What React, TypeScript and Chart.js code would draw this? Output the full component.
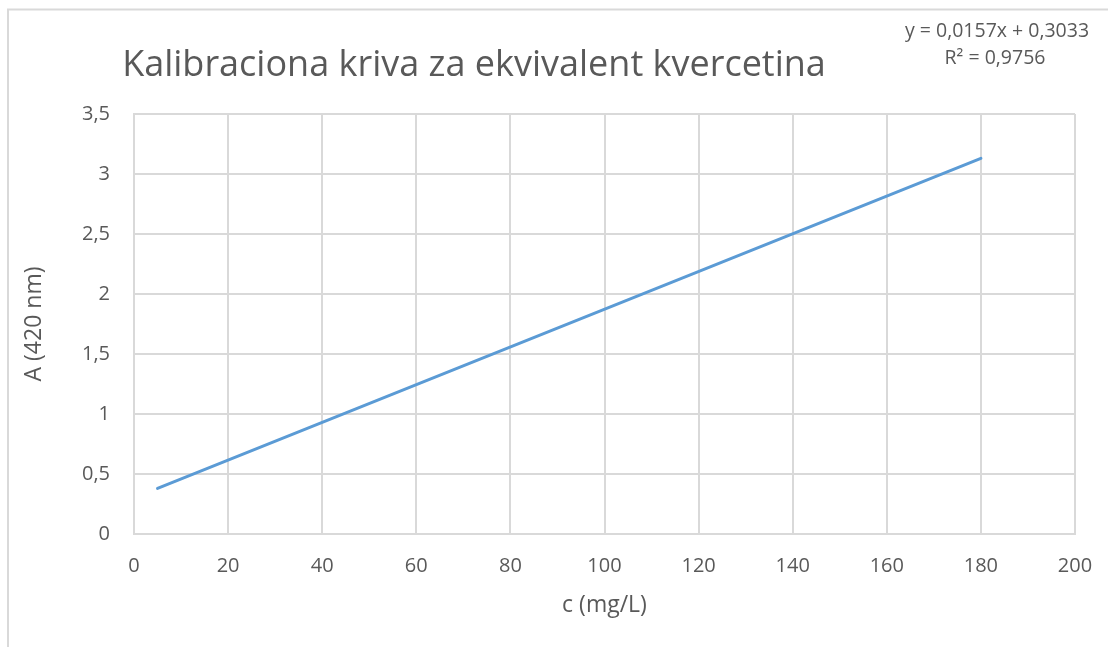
import React, { useEffect, useRef } from "react";
import { Chart, registerables } from "chart.js";

Chart.register(...registerables);

const cValues = [5, 180];
const aValues = [0.38, 3.13];
const xTicks = [0, 20, 40, 60, 80, 100, 120, 140, 160, 180, 200];
const yTicks = [0, 0.5, 1, 1.5, 2, 2.5, 3, 3.5];
const titleText = "Kalibraciona kriva za ekvivalent kvercetina";
const equationText = "y = 0,0157x + 0,3033";
const r2Text = "R² = 0,9756";
const xTitle = "c (mg/L)";
const yTitle = "A (420 nm)";

const FONT = "'Open Sans', 'Noto Sans', sans-serif";
const TXT = "#595959";
const GRID = "#d9d9d9";

const fmt = (v: number) => String(v).replace(".", ",");

const decorPlugin = {
  id: "decor",
  beforeDraw(chart: any) {
    const ctx = chart.ctx;
    ctx.save();
    ctx.fillStyle = "#ffffff";
    ctx.fillRect(0, 0, chart.width, chart.height);
    ctx.strokeStyle = GRID;
    ctx.lineWidth = 2;
    ctx.strokeRect(8, 9.5, chart.width + 20, chart.height + 20);
    ctx.restore();
  },
  afterDraw(chart: any) {
    const ctx = chart.ctx;
    ctx.save();
    ctx.fillStyle = TXT;
    ctx.textBaseline = "middle";
    ctx.textAlign = "center";
    ctx.font = `36px ${FONT}`;
    ctx.fillText(titleText, 474, 66);
    ctx.font = `19.5px ${FONT}`;
    ctx.fillText(equationText, 997, 31);
    ctx.fillText(r2Text, 995, 58);
    ctx.restore();
  },
};

export default function App() {
  const ref = useRef<HTMLCanvasElement>(null);
  useEffect(() => {
    document.body.style.margin = "0";
    const chart = new Chart(ref.current!, {
      type: "scatter",
      data: {
        datasets: [
          {
            data: cValues.map((x, i) => ({ x, y: aValues[i] })),
            showLine: true,
            borderColor: "#5b9bd5",
            borderWidth: 3,
            borderCapStyle: "round",
            pointRadius: 0,
            fill: false,
          },
        ],
      },
      options: {
        responsive: false,
        animation: false,
        layout: { padding: { left: 0, right: 33, top: 114, bottom: 0 } },
        plugins: { legend: { display: false }, tooltip: { enabled: false }, title: { display: false } },
        scales: {
          x: {
            type: "linear",
            min: 0,
            max: 200,
            afterBuildTicks: (s: any) => {
              s.ticks = xTicks.map((v) => ({ value: v }));
            },
            afterFit: (s: any) => {
              s.height = 113;
              s.paddingLeft = 0;
              s.paddingRight = 0;
            },
            grid: { color: GRID, lineWidth: 2, drawTicks: false },
            border: { color: GRID, width: 2 },
            ticks: {
              color: TXT,
              font: { family: FONT, size: 20 },
              padding: 20,
              maxRotation: 0,
              callback: (v: any) => fmt(v),
            },
            title: {
              display: true,
              text: xTitle,
              color: TXT,
              font: { family: FONT, size: 23 },
              padding: { top: 0, bottom: 28 },
            },
          },
          y: {
            type: "linear",
            min: 0,
            max: 3.5,
            afterBuildTicks: (s: any) => {
              s.ticks = yTicks.map((v) => ({ value: v }));
            },
            afterFit: (s: any) => {
              s.width = 134;
              s.paddingTop = 0;
              s.paddingBottom = 0;
            },
            grid: { color: GRID, lineWidth: 2, drawTicks: false },
            border: { color: GRID, width: 2 },
            ticks: {
              color: TXT,
              font: { family: FONT, size: 20 },
              padding: 24,
              callback: (v: any) => fmt(v),
            },
            title: {
              display: true,
              text: yTitle,
              color: TXT,
              font: { family: FONT, size: 23 },
              padding: { top: 21, bottom: 0 },
            },
          },
        },
      },
      plugins: [decorPlugin],
    });
    return () => chart.destroy();
  }, []);
  return (
    <div style={{ width: 1108, height: 647 }}>
      <canvas ref={ref} width={1108} height={647} style={{ display: "block" }} />
    </div>
  );
}
